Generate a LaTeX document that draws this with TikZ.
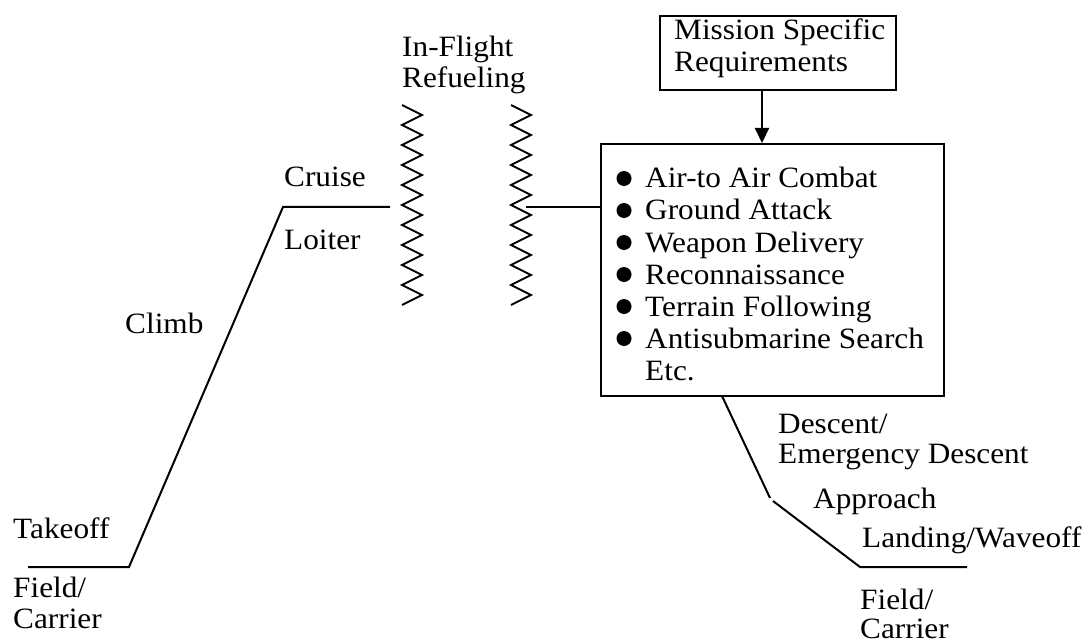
\documentclass[tikz,border=0pt]{standalone}
\usepackage{fontspec}
\setmainfont{Liberation Serif}[FakeStretch=1.06]
\usetikzlibrary{arrows.meta}
\tikzset{
  lbl/.style={anchor=base west, inner sep=0pt, font=\fontsize{29.5}{32}\selectfont},
  path/.style={line width=2pt},
  frame/.style={draw, line width=2pt, inner sep=0pt},
  zz/.style={line width=1.9pt, line join=miter},
}
\begin{document}
\begin{tikzpicture}[x=1pt,y=-1pt]
\useasboundingbox[fill=white] (0,0) rectangle (1091,644);
% flight path
\coordinate (t0) at (28,567);
\coordinate (t1) at (129,567);
\coordinate (c0) at (283,207);
\coordinate (c1) at (390,207);
\draw[path] (t0) -- (t1) -- (c0) -- (c1);
% refuelling zigzags
\draw[zz] (402,105) foreach \k in {1,...,10} { -- ++(20,10) -- ++(-20,10) };
\draw[zz] (511,105) foreach \k in {1,...,10} { -- ++(20,10) -- ++(-20,10) };
% mission box
\node[frame, minimum width=343pt, minimum height=252pt, anchor=north west] (box) at (600,143) {};
\coordinate (stub) at (526,207);
\draw[path] (stub) -- (stub -| box.west);
\foreach \t [count=\i from 0] in {Air-to Air Combat,Ground Attack,Weapon Delivery,Reconnaissance,Terrain Following,Antisubmarine Search}{
  \fill (624,188+32*\i-9.5) circle (7.5pt);
  \node[lbl] (b\i) at (645,188+32*\i) {\t};
}
\node[lbl] (etc) at (645,380) {Etc.};
% requirements box
\node[frame, minimum width=236pt, minimum height=74pt, anchor=north west] (req) at (659,15) {};
\node[lbl] (req1) at (674,40) {Mission Specific};
\node[lbl] (req2) at (674,72) {Requirements};
\coordinate (ax) at (762,0);
\draw[path, -{Triangle[length=15pt,width=14pt]}] (req.south -| ax) -- (box.north -| ax);
% descent
\coordinate (d0) at (722,396);
\coordinate (d1) at (770,498);
\coordinate (a0) at (773,501);
\coordinate (a1) at (860,567);
\coordinate (l1) at (967,567);
\draw[path] (d0) -- (d1);
\draw[path] (a0) -- (a1) -- (l1);
% labels
\node[lbl] (inflight) at (402,57) {In-Flight};
\node[lbl] (refuel) at (402,88) {Refueling};
\node[lbl] (cruise) at (284,187) {Cruise};
\node[lbl] (loiter) at (284,250) {Loiter};
\node[lbl] (climb) at (125,333) {Climb};
\node[lbl] (takeoff) at (13,538) {Takeoff};
\node[lbl] (field1) at (13,597) {Field/};
\node[lbl] (carrier1) at (13,628) {Carrier};
\node[lbl] (descent) at (778,433) {Descent/};
\node[lbl] (emerg) at (778,463) {Emergency Descent};
\node[lbl] (approach) at (813,508) {Approach};
\node[lbl] (landing) at (862,547) {Landing/Waveoff};
\node[lbl] (field2) at (860,609) {Field/};
\node[lbl] (carrier2) at (860,638) {Carrier};
\end{tikzpicture}
\end{document}
